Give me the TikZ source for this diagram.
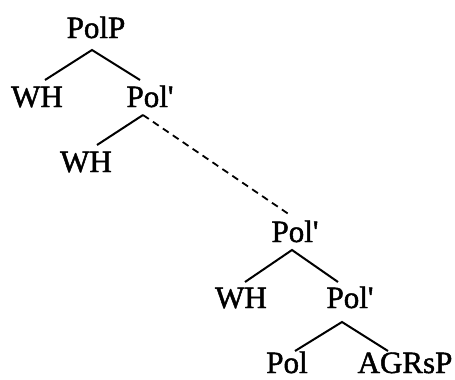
\documentclass[tikz,border=0pt]{standalone}
\usepackage{fontspec}
\setmainfont{Liberation Serif}[FakeBold=1.5]
\begin{document}
\begin{tikzpicture}[x=1pt,y=-1pt,
  lbl/.style={anchor=base,inner sep=0pt,font=\fontsize{31}{31}\selectfont},
  branch/.style={line width=2pt},
  dashbranch/.style={line width=1.8pt,dash pattern=on 7pt off 5pt}]
\useasboundingbox (0,0) rectangle (455,380);
% labels
\node[lbl] (polp) at (96,38) {PolP};
\node[lbl] (wh1) at (37,107) {WH};
\node[lbl] (polbar1) at (150,107) {Pol\textquotesingle};
\node[lbl] (wh2) at (86,172) {WH};
\node[lbl] (polbar2) at (295,242) {Pol\textquotesingle};
\node[lbl] (wh3) at (241,308) {WH};
\node[lbl] (polbar3) at (350,308) {Pol\textquotesingle};
\node[lbl] (pol) at (287,373) {Pol};
\node[lbl] (agrsp) at (405,373) {AGRsP};
% branch points
\coordinate (a1) at (92,50);
\coordinate (l1) at (45,80);
\coordinate (r1) at (140,80);
\coordinate (a2) at (143,115);
\coordinate (l2) at (97,145);
\coordinate (d2) at (290,215);
\coordinate (a3) at (292,250);
\coordinate (l3) at (245,282);
\coordinate (r3) at (338,282);
\coordinate (a4) at (342,322);
\coordinate (l4) at (295,351);
\coordinate (r4) at (388,351);
% connectors
\draw[branch] (l1) -- (a1) -- (r1);
\draw[branch] (a2) -- (l2);
\draw[dashbranch] (a2) -- (d2);
\draw[branch] (l3) -- (a3) -- (r3);
\draw[branch] (l4) -- (a4) -- (r4);
\end{tikzpicture}
\end{document}
